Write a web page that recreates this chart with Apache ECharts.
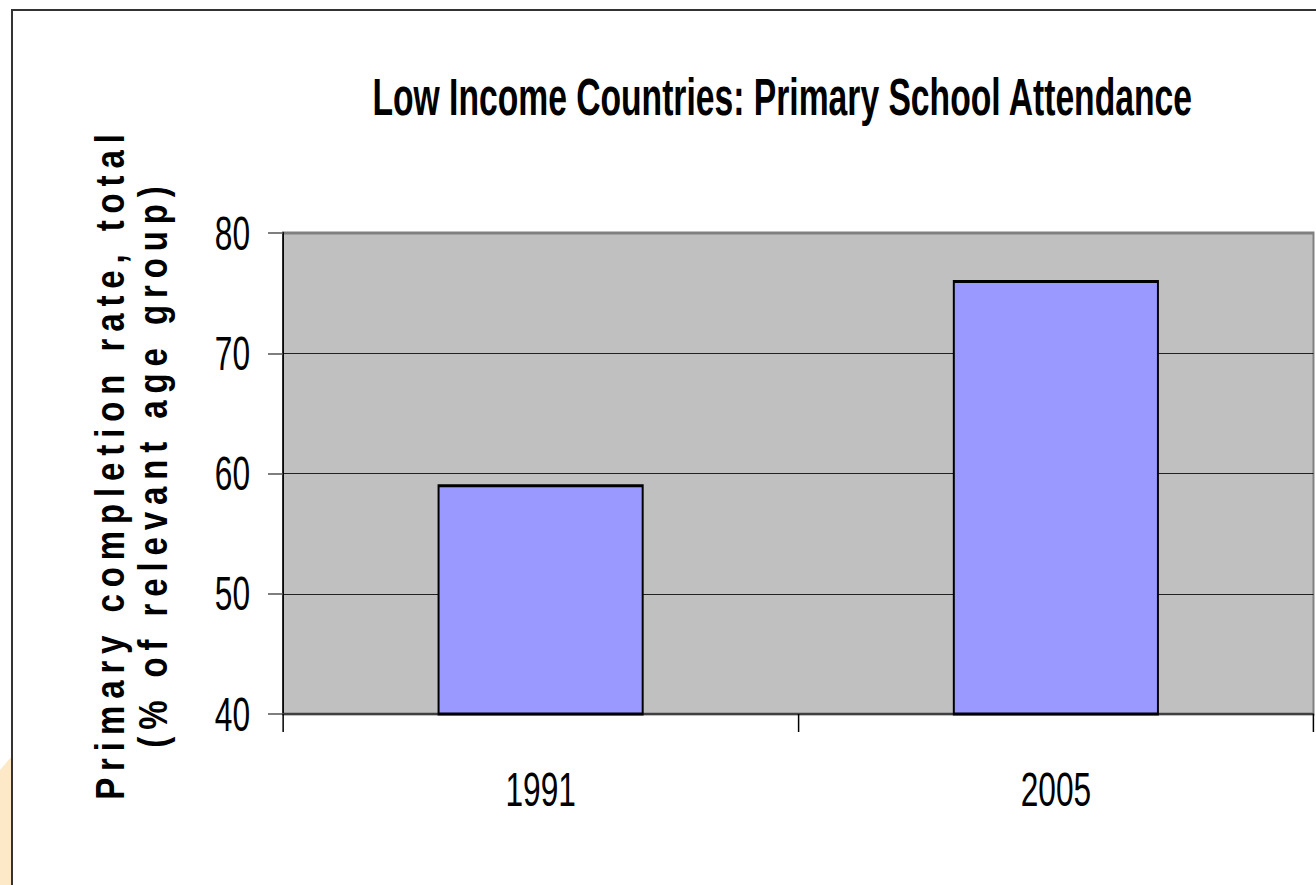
<!DOCTYPE html>
<html>
<head>
<meta charset="utf-8">
<script src="https://cdn.jsdelivr.net/npm/echarts@6/dist/echarts.min.js"></script>
<style>
html,body{margin:0;padding:0;background:#fff;overflow:hidden;width:1316px;height:885px;}
#chart{position:absolute;left:0;top:0;height:885px;transform-origin:0 0;}
</style>
</head>
<body>
<div id="chart"></div>
<script>
// ---- data ----
const categories = ['1991', '2005'];
const completionRate = [59.1, 76.1];
const yMin = 40, yMax = 80, yInterval = 10;
const titleText = 'Low Income Countries: Primary School Attendance';
const yAxisLines = ['Primary completion rate, total', '(% of relevant age group)'];

// ---- layout (the original picture is horizontally compressed) ----
const S = 0.66;
const W = 1316, H = 885;
const VW = W / S;
const vx = x => x / S;
const el = document.getElementById('chart');
el.style.width = VW + 'px';
el.style.transform = 'scaleX(' + S + ')';

const FONT = "'Liberation Sans', Arial, sans-serif";
const titleSize = 51;
const ctx = document.createElement('canvas').getContext('2d');
ctx.font = 'bold ' + titleSize + 'px ' + FONT;
const titleW = ctx.measureText(titleText).width;

// y-axis title look: expanded letter spacing, tall glyphs
const NAME_SIZE = 33, NAME_SPACING = 6.9, NAME_TALL = 1.85, NAME_SHIFT = 10;

const chart = echarts.init(el, null, {renderer: 'svg', width: VW, height: H});
const option = {
  animation: false,
  backgroundColor: '#ffffff',
  title: {
    text: titleText,
    left: vx(783) - titleW / 2,
    top: 72,
    padding: 0,
    textStyle: {fontFamily: FONT, fontSize: titleSize, fontWeight: 'bold', color: '#000'}
  },
  grid: {
    left: vx(283), right: VW - vx(1313.5), top: 233, bottom: H - 714,
    show: true, backgroundColor: '#c0c0c0', borderColor: '#808080', borderWidth: 3,
    containLabel: false
  },
  xAxis: {
    type: 'category',
    data: categories,
    boundaryGap: true,
    axisLine: {show: true, lineStyle: {color: '#404040', width: 2}},
    axisTick: {show: true, alignWithLabel: false, length: 18, lineStyle: {color: '#000', width: 1.5 / S}},
    axisLabel: {fontFamily: FONT, fontSize: 48, color: '#000', margin: 51},
    splitLine: {show: false}
  },
  yAxis: {
    type: 'value',
    min: yMin, max: yMax, interval: yInterval,
    name: yAxisLines.join('\n'),
    nameLocation: 'middle',
    nameRotate: 90,
    nameGap: 164,
    nameTextStyle: {fontFamily: FONT, fontSize: NAME_SIZE, fontWeight: 'bold', color: '#000', lineHeight: 65, align: 'center'},
    axisLine: {show: true, lineStyle: {color: '#000', width: 1.6 / S}},
    axisTick: {show: true, length: vx(15), lineStyle: {color: '#555', width: 1.5}},
    axisLabel: {fontFamily: FONT, fontSize: 48, color: '#000', margin: vx(33), padding: [0, 0, 10, 0]},
    splitLine: {show: true, lineStyle: {color: ['#404040', '#000', '#000', '#000', '#808080'], width: 1}}
  },
  series: [{
    type: 'bar',
    data: completionRate,
    barWidth: '40%',
    itemStyle: {color: '#9999ff', borderColor: '#000', borderWidth: 3}
  }],
  graphic: [
    {type: 'polygon', z: -10, shape: {points: [[0, 770], [vx(12), 756], [vx(12), 885], [0, 885]]}, style: {fill: '#fde9c8'}},
    {type: 'line', shape: {x1: vx(12), y1: 10, x2: VW + 10, y2: 10}, style: {stroke: '#333', lineWidth: 2}},
    {type: 'line', shape: {x1: vx(12), y1: 9, x2: vx(12), y2: H + 10}, style: {stroke: '#333', lineWidth: 2 / S}}
  ]
};

function styleAxisName() {
  el.querySelectorAll('text, tspan').forEach(n => {
    if (n.getAttribute('data-styled')) return;
    const s = n.textContent;
    if (s !== yAxisLines[0] && s !== yAxisLines[1]) return;
    n.setAttribute('data-styled', '1');
    n.style.letterSpacing = NAME_SPACING + 'px';
    const tr = n.getAttribute('transform') || '';
    const y = parseFloat(n.getAttribute('y') || '0');
    const x = parseFloat(n.getAttribute('x') || '0');
    n.setAttribute('transform', (tr + ' scale(1,' + NAME_TALL + ')').trim());
    n.setAttribute('y', y / NAME_TALL);
    n.setAttribute('x', x + NAME_SHIFT);
  });
}
chart.on('finished', styleAxisName);
chart.setOption(option);
styleAxisName();
</script>
</body>
</html>
